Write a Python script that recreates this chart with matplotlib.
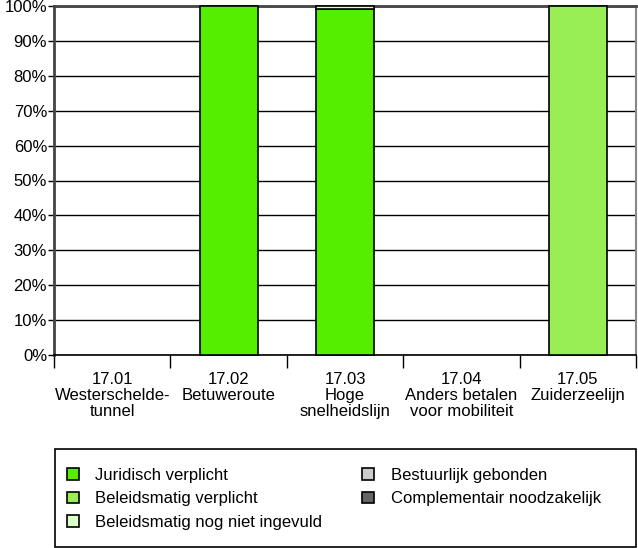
import matplotlib.pyplot as plt
from matplotlib.patches import Patch, Rectangle
import numpy as np

plt.rcParams['font.family'] = ['Liberation Sans', 'DejaVu Sans']

categories = ['17.01\nWesterschelde-\ntunnel', '17.02\nBetuweroute',
              '17.03\nHoge\nsnelheidslijn', '17.04\nAnders betalen\nvoor mobiliteit',
              '17.05\nZuiderzeelijn']
series_names = ['Juridisch verplicht', 'Beleidsmatig verplicht',
                'Beleidsmatig nog niet ingevuld', 'Bestuurlijk gebonden',
                'Complementair noodzakelijk']
juridisch = [0, 100, 99, 0, 0]
beleid_verplicht = [0, 0, 0, 0, 100]
beleid_nog_niet = [0, 0, 1, 0, 0]
bestuurlijk = [0, 0, 0, 0, 0]
complementair = [0, 0, 0, 0, 0]
colors = ['#55ee00', '#99ee55', '#ddffcc', '#cccccc', '#666666']
yticks = [0, 10, 20, 30, 40, 50, 60, 70, 80, 90, 100]

values = [juridisch, beleid_verplicht, beleid_nog_niet, bestuurlijk, complementair]

fig = plt.figure(figsize=(6.38, 5.48), dpi=100)
ax = fig.add_axes([54/638, 1 - 355/548, 582/638, 349/548])

x = np.arange(len(categories))
bottom = np.zeros(len(categories))
for vals, col, name in zip(values, colors, series_names):
    vals = np.array(vals, dtype=float)
    mask = vals > 0
    ax.bar(x[mask], vals[mask], bottom=bottom[mask], width=0.5, color=col,
           edgecolor='black', linewidth=1.2, zorder=3, clip_on=False)
    bottom += vals

ax.set_xlim(-0.5, len(categories) - 0.5)
ax.set_ylim(0, 100)
ax.set_yticks(yticks)
ax.set_yticklabels([f'{v}%' for v in yticks], fontsize=12)
ax.yaxis.grid(True, color='black', linewidth=1.0, zorder=0)
ax.tick_params(axis='y', length=4, width=1, pad=1)

ax.set_xticks(x)
ax.set_xticklabels(categories, fontsize=12, linespacing=1.1)
ax.tick_params(axis='x', length=0, pad=12)
ax.set_xticks(np.arange(len(categories) + 1) - 0.5, minor=True)
ax.tick_params(axis='x', which='minor', length=9, width=1)

for s in ['left', 'top']:
    ax.spines[s].set_linewidth(2)
    ax.spines[s].set_color('#444444')
ax.spines['right'].set_color('#888888')
ax.spines['right'].set_linewidth(1.5)
ax.spines['bottom'].set_linewidth(1.2)

# legend frame
fig.patches.append(Rectangle((55/638, 1/548), 581/638, 98/548, transform=fig.transFigure,
                             facecolor='white', edgecolor='black', linewidth=1.2))

handles = [Patch(facecolor=c, edgecolor='black', linewidth=1.2) for c in colors]
fig.legend(handles, series_names,
           loc='upper left', bbox_to_anchor=(67/638, 1 - 468/548),
           ncol=2, fontsize=12, frameon=False,
           handlelength=0.7, handleheight=0.7,
           borderaxespad=0, borderpad=0, labelspacing=0.5, handletextpad=1.0,
           columnspacing=2.4)

fig.savefig('out.png', dpi=100)
